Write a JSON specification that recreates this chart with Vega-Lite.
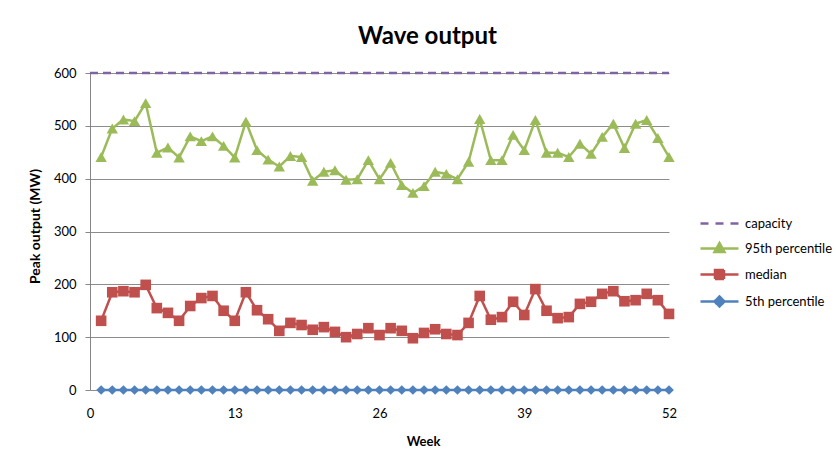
{
  "$schema": "https://vega.github.io/schema/vega-lite/v6.json",
  "width": 579,
  "height": 317,
  "autosize": "none",
  "padding": {"left": 90, "top": 73, "right": 167, "bottom": 78},
  "background": "white",
  "config": {
    "font": "Lato",
    "view": {"stroke": null},
    "axis": {"labelFont": "Lato", "titleFont": "Lato", "labelFontSize": 13, "labelColor": "#000", "titleColor": "#000", "domainColor": "#868686", "tickColor": "#868686", "gridColor": "#8c8c8c"}
  },
  "title": {"text": "Wave output", "font": "Lato", "fontSize": 24, "fontWeight": "bold", "color": "#000", "anchor": "middle", "dx": 48, "offset": 18},
  "data": {"values": [
    {"week": 0, "capacity": 600},
    {"week": 1, "capacity": 600, "95th percentile": 441, "median": 131, "5th percentile": 0},
    {"week": 2, "capacity": 600, "95th percentile": 495, "median": 185, "5th percentile": 0},
    {"week": 3, "capacity": 600, "95th percentile": 512, "median": 187, "5th percentile": 0},
    {"week": 4, "capacity": 600, "95th percentile": 509, "median": 185, "5th percentile": 0},
    {"week": 5, "capacity": 600, "95th percentile": 543, "median": 199, "5th percentile": 0},
    {"week": 6, "capacity": 600, "95th percentile": 449, "median": 155, "5th percentile": 0},
    {"week": 7, "capacity": 600, "95th percentile": 459, "median": 146, "5th percentile": 0},
    {"week": 8, "capacity": 600, "95th percentile": 440, "median": 131, "5th percentile": 0},
    {"week": 9, "capacity": 600, "95th percentile": 480, "median": 159, "5th percentile": 0},
    {"week": 10, "capacity": 600, "95th percentile": 471, "median": 174, "5th percentile": 0},
    {"week": 11, "capacity": 600, "95th percentile": 480, "median": 178, "5th percentile": 0},
    {"week": 12, "capacity": 600, "95th percentile": 462, "median": 150, "5th percentile": 0},
    {"week": 13, "capacity": 600, "95th percentile": 440, "median": 131, "5th percentile": 0},
    {"week": 14, "capacity": 600, "95th percentile": 508, "median": 185, "5th percentile": 0},
    {"week": 15, "capacity": 600, "95th percentile": 454, "median": 151, "5th percentile": 0},
    {"week": 16, "capacity": 600, "95th percentile": 436, "median": 134, "5th percentile": 0},
    {"week": 17, "capacity": 600, "95th percentile": 423, "median": 112, "5th percentile": 0},
    {"week": 18, "capacity": 600, "95th percentile": 443, "median": 127, "5th percentile": 0},
    {"week": 19, "capacity": 600, "95th percentile": 441, "median": 123, "5th percentile": 0},
    {"week": 20, "capacity": 600, "95th percentile": 396, "median": 114, "5th percentile": 0},
    {"week": 21, "capacity": 600, "95th percentile": 413, "median": 119, "5th percentile": 0},
    {"week": 22, "capacity": 600, "95th percentile": 416, "median": 110, "5th percentile": 0},
    {"week": 23, "capacity": 600, "95th percentile": 398, "median": 100, "5th percentile": 0},
    {"week": 24, "capacity": 600, "95th percentile": 399, "median": 106, "5th percentile": 0},
    {"week": 25, "capacity": 600, "95th percentile": 435, "median": 117, "5th percentile": 0},
    {"week": 26, "capacity": 600, "95th percentile": 399, "median": 104, "5th percentile": 0},
    {"week": 27, "capacity": 600, "95th percentile": 430, "median": 117, "5th percentile": 0},
    {"week": 28, "capacity": 600, "95th percentile": 388, "median": 112, "5th percentile": 0},
    {"week": 29, "capacity": 600, "95th percentile": 373, "median": 98, "5th percentile": 0},
    {"week": 30, "capacity": 600, "95th percentile": 386, "median": 108, "5th percentile": 0},
    {"week": 31, "capacity": 600, "95th percentile": 413, "median": 115, "5th percentile": 0},
    {"week": 32, "capacity": 600, "95th percentile": 409, "median": 106, "5th percentile": 0},
    {"week": 33, "capacity": 600, "95th percentile": 399, "median": 104, "5th percentile": 0},
    {"week": 34, "capacity": 600, "95th percentile": 432, "median": 127, "5th percentile": 0},
    {"week": 35, "capacity": 600, "95th percentile": 513, "median": 178, "5th percentile": 0},
    {"week": 36, "capacity": 600, "95th percentile": 435, "median": 133, "5th percentile": 0},
    {"week": 37, "capacity": 600, "95th percentile": 435, "median": 138, "5th percentile": 0},
    {"week": 38, "capacity": 600, "95th percentile": 483, "median": 167, "5th percentile": 0},
    {"week": 39, "capacity": 600, "95th percentile": 454, "median": 142, "5th percentile": 0},
    {"week": 40, "capacity": 600, "95th percentile": 511, "median": 191, "5th percentile": 0},
    {"week": 41, "capacity": 600, "95th percentile": 449, "median": 150, "5th percentile": 0},
    {"week": 42, "capacity": 600, "95th percentile": 449, "median": 136, "5th percentile": 0},
    {"week": 43, "capacity": 600, "95th percentile": 441, "median": 138, "5th percentile": 0},
    {"week": 44, "capacity": 600, "95th percentile": 466, "median": 163, "5th percentile": 0},
    {"week": 45, "capacity": 600, "95th percentile": 447, "median": 167, "5th percentile": 0},
    {"week": 46, "capacity": 600, "95th percentile": 479, "median": 182, "5th percentile": 0},
    {"week": 47, "capacity": 600, "95th percentile": 504, "median": 187, "5th percentile": 0},
    {"week": 48, "capacity": 600, "95th percentile": 458, "median": 168, "5th percentile": 0},
    {"week": 49, "capacity": 600, "95th percentile": 504, "median": 170, "5th percentile": 0},
    {"week": 50, "capacity": 600, "95th percentile": 511, "median": 182, "5th percentile": 0},
    {"week": 51, "capacity": 600, "95th percentile": 477, "median": 170, "5th percentile": 0},
    {"week": 52, "capacity": 600, "95th percentile": 441, "median": 144, "5th percentile": 0}
  ]},
  "transform": [
    {"fold": ["capacity", "95th percentile", "median", "5th percentile"], "as": ["series", "value"]},
    {"filter": "datum.value != null"}
  ],
  "encoding": {
    "x": {"field": "week", "type": "quantitative", "scale": {"domain": [0, 52], "nice": false},
      "axis": {"values": [0, 13, 26, 39, 52], "title": "Week", "titleFontSize": 13, "titleFontWeight": "bold", "titleX": 333, "titleY": 51, "titleBaseline": "middle", "grid": false, "ticks": false, "labelPadding": 17, "labelFlush": false, "domain": false}},
    "y": {"field": "value", "type": "quantitative", "scale": {"domain": [0, 600], "nice": false},
      "axis": {"values": [0, 100, 200, 300, 400, 500, 600], "title": "Peak output (MW)", "titleFontSize": 14, "titleFontWeight": "bold", "titleX": -55, "titleY": 153, "titleAngle": -90, "titleAlign": "center", "titleBaseline": "middle", "grid": true, "tickSize": 5, "labelPadding": 9}},
    "color": {"field": "series", "type": "nominal",
      "scale": {"domain": ["capacity", "95th percentile", "median", "5th percentile"], "range": ["#8064A2", "#9BBB59", "#C0504D", "#4F81BD"]},
      "legend": {"title": null, "orient": "none", "legendX": 618, "legendY": 139, "symbolSize": 400, "labelFontSize": 13, "labelFont": "Lato", "labelColor": "#000", "labelOffset": 14, "rowPadding": 6,
        "encode": {"symbols": {"update": {
          "shape": {"signal": "datum.value==='capacity' ? 'M-1.9,0H-1.1M-0.4,0H0.4M1.1,0H1.9' : datum.value==='95th percentile' ? 'M-1.9,0H1.9M0,-0.55L0.5,0.35L-0.5,0.35Z' : datum.value==='median' ? 'M-1.9,0H1.9M-0.45,-0.45H0.45V0.45H-0.45Z' : 'M-1.9,0H1.9M0,-0.5L0.5,0L0,0.5L-0.5,0Z'"},
          "fill": {"signal": "datum.value==='capacity' ? 'transparent' : datum.value==='95th percentile' ? '#9BBB59' : datum.value==='median' ? '#C0504D' : '#4F81BD'"},
          "stroke": {"signal": "datum.value==='capacity' ? '#8064A2' : datum.value==='95th percentile' ? '#9BBB59' : datum.value==='median' ? '#C0504D' : '#4F81BD'"},
          "strokeWidth": {"value": 2.5},
          "strokeDash": {"value": [1, 0]},
          "opacity": {"value": 1},
          "size": {"value": 400}
        }}}}}
  },
  "layer": [
    {"mark": {"type": "line", "strokeWidth": 2.5},
     "encoding": {
       "detail": {"field": "series"},
       "strokeDash": {"condition": {"test": "datum.series === 'capacity'", "value": [8, 5]}, "value": [1, 0]}
     }},
    {"transform": [{"filter": "datum.series !== 'capacity'"}],
     "mark": {"type": "point", "filled": true, "opacity": 1},
     "encoding": {
       "shape": {"field": "series", "type": "nominal", "scale": {"domain": ["95th percentile", "median", "5th percentile"], "range": ["triangle-up", "square", "diamond"]}, "legend": null},
       "size": {"field": "series", "type": "nominal", "scale": {"domain": ["95th percentile", "median", "5th percentile"], "range": [130, 95, 115]}, "legend": null}
     }}
  ]
}
